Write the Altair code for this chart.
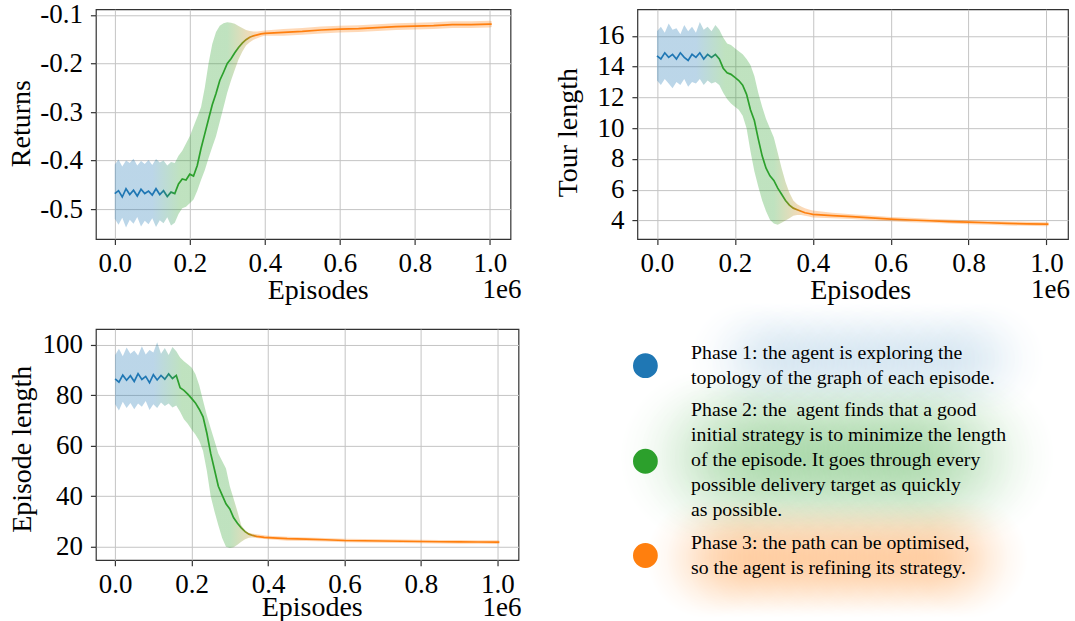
import altair as alt
import pandas as pd

# ---------------- data (x in units of 1e6 episodes) ----------------
EPISODES = [0.00, 0.01, 0.02, 0.03, 0.04, 0.05, 0.06, 0.07, 0.08, 0.09,
            0.10, 0.11, 0.12, 0.13, 0.14, 0.15, 0.16, 0.17, 0.18, 0.19,
            0.20, 0.21, 0.22, 0.23, 0.24, 0.25, 0.26, 0.27, 0.28, 0.29,
            0.30, 0.31, 0.32, 0.33, 0.34, 0.35, 0.36, 0.37, 0.38, 0.39,
            0.40, 0.45, 0.50, 0.55, 0.60, 0.65, 0.70, 0.75, 0.80, 0.85,
            0.90, 0.95, 1.00, 1.005]

RET_MEAN = [-0.468, -0.462, -0.475, -0.458, -0.470, -0.461, -0.473, -0.459, -0.468, -0.463,
            -0.471, -0.458, -0.470, -0.462, -0.474, -0.465, -0.468, -0.448, -0.438, -0.440,
            -0.428, -0.432, -0.410, -0.375, -0.345, -0.315, -0.285, -0.262, -0.235, -0.218,
            -0.200, -0.190, -0.178, -0.167, -0.158, -0.151, -0.146, -0.143, -0.141, -0.139,
            -0.138, -0.136, -0.134, -0.131, -0.129, -0.128, -0.126, -0.124, -0.123, -0.122,
            -0.120, -0.120, -0.119, -0.119]
RET_HI = [-0.408, -0.398, -0.412, -0.400, -0.405, -0.396, -0.410, -0.401, -0.407, -0.399,
          -0.409, -0.397, -0.404, -0.400, -0.410, -0.403, -0.405, -0.390, -0.380, -0.365,
          -0.350, -0.330, -0.310, -0.290, -0.250, -0.200, -0.160, -0.135, -0.122, -0.117,
          -0.115, -0.116, -0.118, -0.123, -0.127, -0.131, -0.133, -0.134, -0.134, -0.133,
          -0.132, -0.129, -0.127, -0.124, -0.122, -0.121, -0.119, -0.117, -0.116, -0.115,
          -0.113, -0.113, -0.112, -0.113]
RET_LO = [-0.520, -0.532, -0.518, -0.538, -0.522, -0.530, -0.516, -0.536, -0.524, -0.531,
          -0.519, -0.537, -0.523, -0.529, -0.517, -0.534, -0.528, -0.510, -0.498, -0.495,
          -0.488, -0.480, -0.462, -0.440, -0.420, -0.395, -0.372, -0.350, -0.320, -0.290,
          -0.260, -0.235, -0.213, -0.192, -0.176, -0.163, -0.156, -0.151, -0.148, -0.145,
          -0.143, -0.143, -0.141, -0.138, -0.136, -0.135, -0.133, -0.131, -0.130, -0.129,
          -0.127, -0.127, -0.126, -0.125]

TOUR_MEAN = [14.7, 14.5, 14.9, 14.6, 14.8, 14.5, 14.9, 14.6, 14.4, 14.8,
             14.6, 14.9, 14.5, 14.8, 14.6, 14.8, 14.5, 13.9, 13.6, 13.5,
             13.3, 13.1, 12.8, 12.2, 11.2, 10.5, 9.3, 8.2, 7.4, 6.9,
             6.6, 6.1, 5.7, 5.3, 5.0, 4.8, 4.7, 4.6, 4.5, 4.45,
             4.4, 4.32, 4.25, 4.17, 4.09, 4.03, 3.98, 3.93, 3.89, 3.85,
             3.81, 3.78, 3.76, 3.76]
TOUR_HI = [16.3, 16.6, 16.2, 16.8, 16.4, 16.5, 16.1, 16.7, 16.3, 16.6,
           16.2, 16.9, 16.4, 16.6, 16.3, 16.7, 16.4, 15.9, 15.5, 15.4,
           15.2, 15.0, 14.8, 14.5, 14.1, 13.4, 12.3, 11.4, 10.6, 10.0,
           9.4, 8.4, 7.4, 6.5, 5.8, 5.3, 5.05, 4.9, 4.8, 4.72,
           4.65, 4.50, 4.41, 4.32, 4.23, 4.17, 4.11, 4.06, 4.02, 3.98,
           3.94, 3.91, 3.89, 3.88]
TOUR_LO = [13.1, 12.8, 13.2, 12.9, 12.6, 13.0, 12.8, 13.2, 12.7, 13.0,
           12.9, 13.2, 12.8, 13.1, 12.9, 13.0, 12.8, 12.3, 11.9, 11.6,
           11.4, 11.2, 10.8, 10.0, 8.5, 7.2, 6.2, 5.3, 4.6, 4.05,
           3.8, 3.72, 3.85, 4.0, 4.15, 4.3, 4.35, 4.35, 4.3, 4.25,
           4.2, 4.15, 4.09, 4.02, 3.95, 3.89, 3.85, 3.80, 3.76, 3.72,
           3.68, 3.65, 3.63, 3.64]

EPLEN_MEAN = [86.5, 85.2, 88.0, 86.0, 87.8, 85.5, 88.6, 86.3, 87.5, 85.0,
              88.2, 86.1, 87.9, 86.4, 88.5, 86.7, 87.9, 83.0, 82.0, 80.5,
              78.8, 77.0, 74.5, 71.5, 65.0, 57.0, 50.5, 44.0, 40.5, 37.0,
              35.0, 31.5, 29.3, 27.5, 26.0, 25.0, 24.5, 24.1, 23.9, 23.7,
              23.6, 23.2, 23.0, 22.8, 22.5, 22.4, 22.3, 22.2, 22.1, 22.0,
              21.95, 21.9, 21.85, 21.85]
EPLEN_HI = [96.0, 98.5, 95.5, 99.0, 96.5, 97.8, 95.8, 99.5, 96.2, 98.0,
            97.0, 101.0, 96.5, 98.8, 96.0, 99.2, 97.5, 95.0, 93.5, 92.3,
            91.0, 88.5, 84.0, 78.0, 72.0, 67.0, 62.0, 57.0, 54.0, 51.0,
            44.0, 39.0, 34.0, 28.5, 26.5, 25.5, 25.2, 25.0, 24.8, 24.6,
            24.4, 24.0, 23.7, 23.5, 23.2, 23.1, 23.0, 22.9, 22.8, 22.7,
            22.65, 22.6, 22.55, 22.5]
EPLEN_LO = [76.5, 74.0, 77.5, 75.0, 77.0, 74.5, 76.8, 75.5, 77.8, 74.2,
            76.5, 75.0, 77.2, 75.8, 76.8, 75.2, 76.0, 73.5, 70.5, 68.8,
            66.5, 64.5, 62.0, 58.0, 50.0, 40.0, 34.0, 28.5, 23.5, 20.0,
            19.5, 19.8, 20.8, 22.0, 23.0, 23.6, 23.7, 23.5, 23.3, 23.1,
            23.0, 22.4, 22.3, 22.1, 21.8, 21.7, 21.6, 21.5, 21.4, 21.3,
            21.25, 21.2, 21.15, 21.2]

X_TICKS = [0.0, 0.2, 0.4, 0.6, 0.8, 1.0]
RET_TICKS = [-0.5, -0.4, -0.3, -0.2, -0.1]
TOUR_TICKS = [4, 6, 8, 10, 12, 14, 16]
EPLEN_TICKS = [20, 40, 60, 80, 100]

PHASE_COLORS = ["#1f77b4", "#2ca02c", "#ff7f0e"]
PHASE_TEXTS = [
    ["Phase 1: the agent is exploring the",
     "topology of the graph of each episode."],
    ["Phase 2: the \u00a0agent finds that a good",
     "initial strategy is to minimize the length",
     "of the episode. It goes through every",
     "possible delivery target as quickly",
     "as possible."],
    ["Phase 3: the path can be optimised,",
     "so the agent is refining its strategy."],
]

FONT = "Liberation Serif"
X_DOMAIN = [-0.05025, 1.05525]
XMAX = EPISODES[-1]


def lin_grad(points):
    return alt.LinearGradient(
        gradient="linear", x1=0, x2=1, y1=0, y2=0,
        stops=[alt.GradientStop(color=c, offset=min(1.0, o / XMAX)) for o, c in points])


B, G, O = PHASE_COLORS
LINE_GRAD = lin_grad([(0.0, B), (0.118, B), (0.165, G), (0.32, G), (0.375, O), (XMAX, O)])
BAND_GRAD = lin_grad([(0.0, B), (0.10, B), (0.175, G), (0.30, G), (0.38, O), (XMAX, O)])


def panel(mean, lo, hi, ydom, yticks, ytitle, w, h, ytx, yty, xtx, xty, e6x, e6y, ylabel_expr=None):
    df = pd.DataFrame({"Episodes": EPISODES, "mean": mean, "lo": lo, "hi": hi})
    xaxis = alt.Axis(values=X_TICKS, format=".1f", title="Episodes",
                     titleX=xtx, titleY=xty, titleAlign="center", titleBaseline="alphabetic")
    yaxis_kw = dict(values=yticks, title=ytitle, titleAngle=270, titleX=ytx, titleY=yty,
                    titleAlign="center", titleBaseline="alphabetic")
    if ylabel_expr:
        yaxis_kw["labelExpr"] = ylabel_expr
    yaxis = alt.Axis(**yaxis_kw)
    xs = alt.Scale(domain=X_DOMAIN, nice=False, zero=False)
    ys = alt.Scale(domain=ydom, nice=False, zero=False)
    band = alt.Chart(df).mark_area(fill=BAND_GRAD, fillOpacity=0.3, opacity=1).encode(
        x=alt.X("Episodes:Q", scale=xs, axis=xaxis),
        y=alt.Y("lo:Q", scale=ys, axis=yaxis),
        y2="hi:Q",
    )
    line = alt.Chart(df).mark_line(stroke=LINE_GRAD, strokeWidth=1.7).encode(
        x=alt.X("Episodes:Q", scale=xs, axis=xaxis),
        y=alt.Y("mean:Q", scale=ys, axis=yaxis),
    )
    e6 = alt.Chart(alt.Data(values=[{"t": "1e6"}])).mark_text(
        font=FONT, fontSize=27, align="right", baseline="alphabetic", color="black"
    ).encode(text="t:N", x=alt.value(e6x), y=alt.value(e6y))
    return alt.layer(band, line, e6).properties(
        width=w, height=h,
        view=alt.ViewBackground(stroke="#333333", strokeWidth=1.2, fill="white"))


p1 = panel(RET_MEAN, RET_LO, RET_HI, [-0.5617, -0.0883], RET_TICKS, "Returns",
           415, 230, -66, 114, 222, 59, 426, 289,
           ylabel_expr="(datum.value < 0 ? '-' : '') + format(abs(datum.value), '.1f')")
p2 = panel(TOUR_MEAN, TOUR_LO, TOUR_HI, [2.79, 17.73], TOUR_TICKS, "Tour length",
           431, 230, -60.5, 123, 223, 59, 433, 289)
p3 = panel(EPLEN_MEAN, EPLEN_LO, EPLEN_HI, [14.7, 106.3], EPLEN_TICKS, "Episode length",
           423, 231.4, -65, 120, 216, 55.5, 426, 286.9)

# ---------------- phase description panel ----------------
one = alt.Data(values=[{}])


def glow(rgb, alpha, x_from, x_to, step, cy, r):
    rows = []
    cx = x_from
    while cx <= x_to:
        rows.append({"x": cx - r, "x2": cx + r, "y": cy - r, "y2": cy + r})
        cx += step
    grad = alt.RadialGradient(
        gradient="radial", x1=0.5, y1=0.5, x2=0.5, y2=0.5, r1=0, r2=0.5,
        stops=[alt.GradientStop(color="rgba(%d,%d,%d,1)" % rgb, offset=0),
               alt.GradientStop(color="rgba(%d,%d,%d,0.7)" % rgb, offset=0.35),
               alt.GradientStop(color="rgba(%d,%d,%d,0)" % rgb, offset=1)])
    return alt.Chart(alt.Data(values=rows)).mark_rect(fill=grad, opacity=alpha).encode(
        x=alt.X("x:Q", scale=None, axis=None), x2="x2:Q",
        y=alt.Y("y:Q", scale=None, axis=None), y2="y2:Q")


layers = [
    glow((31, 119, 180), 0.06, 110, 350, 20, 30, 58),
    glow((44, 160, 44), 0.10, 70, 330, 20, 128, 88),
    glow((255, 127, 14), 0.14, 70, 330, 20, 229, 61),
]

dot_y = [36.7, 132.4, 226.7]
text_y = [30, 87.4, 220]
for c, dy, ty, lines in zip(PHASE_COLORS, dot_y, text_y, PHASE_TEXTS):
    layers.append(alt.Chart(one).mark_circle(size=616, color=c, opacity=1).encode(
        x=alt.value(8), y=alt.value(dy)))
    layers.append(alt.Chart(one).mark_text(
        text=lines, font=FONT, fontSize=19.8, lineHeight=24.9, align="left",
        baseline="alphabetic", color="black").encode(x=alt.value(53.7), y=alt.value(ty)))

txt = alt.layer(*layers).properties(
    width=437, height=290,
    view=alt.ViewBackground(stroke="transparent", fill="transparent"))

chart = alt.concat(p1, p2, p3, txt, columns=2, spacing={"row": 90, "column": 119},
                   bounds="flush").properties(
    padding={"left": 7, "top": 0, "right": 0, "bottom": 0},
    background="white",
).configure_view(stroke="transparent").configure_axis(
    labelFont=FONT, titleFont=FONT, labelFontSize=27, titleFontSize=28,
    labelColor="black", titleColor="black", titleFontWeight="normal",
    gridColor="#c4c4c4", gridWidth=1, gridOpacity=1,
    tickColor="#333333", tickSize=5.5, tickWidth=1.2,
    domain=False, labelOverlap=False, labelFlush=False,
).configure_axisX(labelPadding=6).configure_axisY(labelPadding=8)

chart.save("out.html", embed_options={"renderer": "svg", "actions": False})
